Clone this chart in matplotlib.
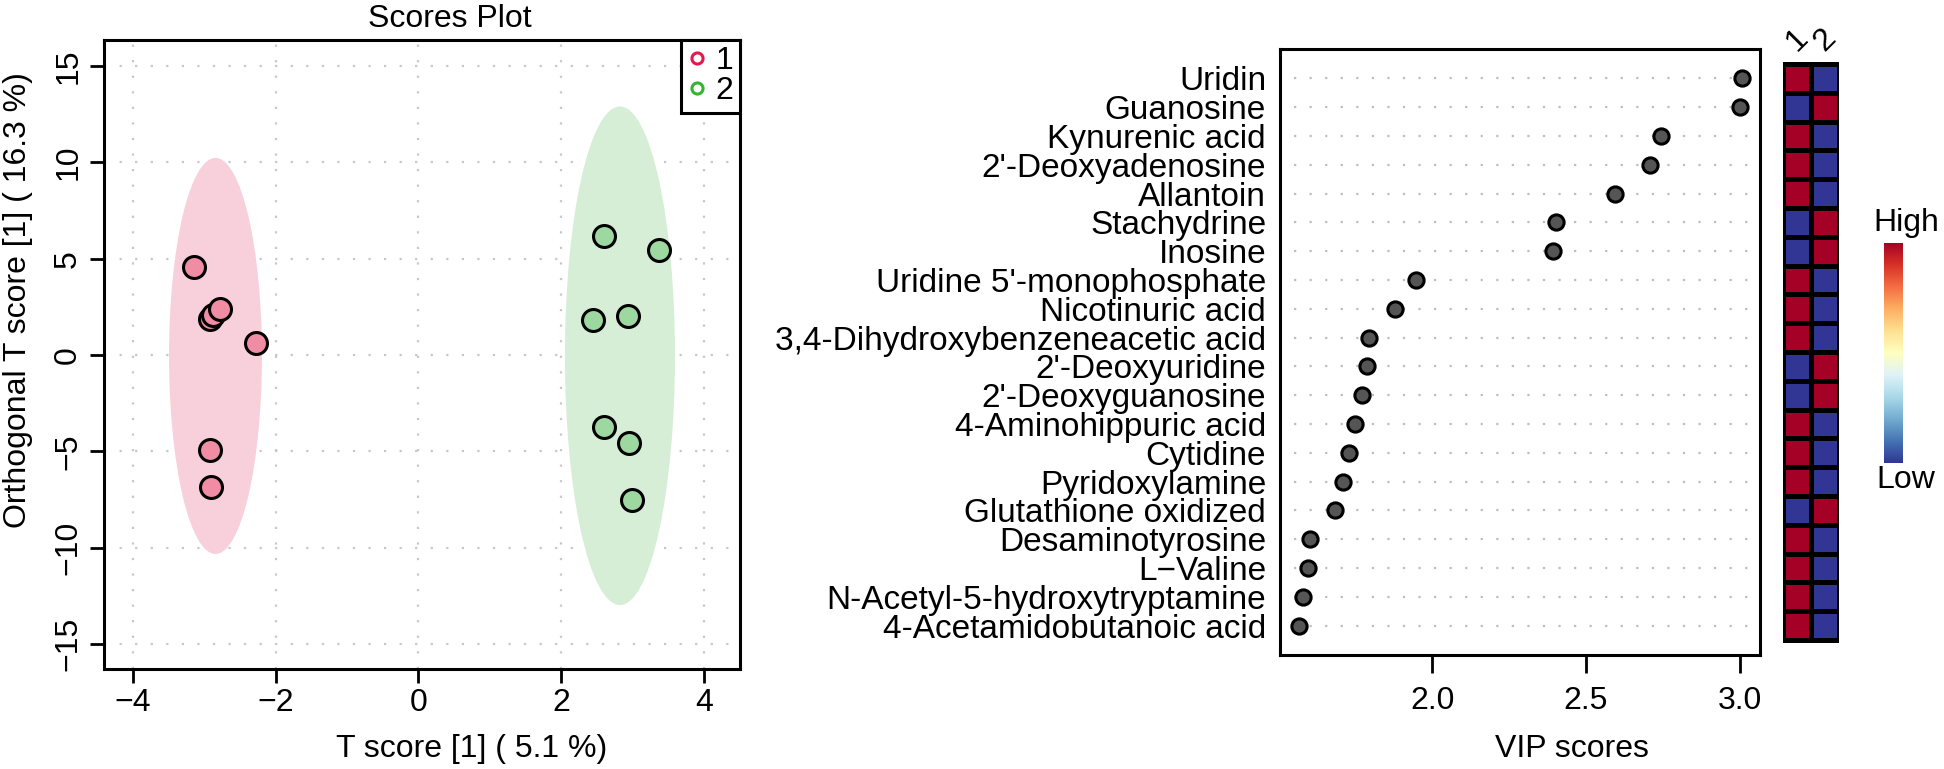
import numpy as np
import matplotlib
matplotlib.use('Agg')
import matplotlib.pyplot as plt
from matplotlib.patches import Ellipse
from matplotlib.lines import Line2D

plt.rcParams['font.family'] = ['Liberation Sans', 'DejaVu Sans']

# scores plot (T score, orthogonal T score) per group
g1_t = [-3.14, -2.92, -2.87, -2.78, -2.27, -2.92, -2.90]
g1_o = [4.55, 1.88, 2.09, 2.39, 0.64, -4.91, -6.87]
g2_t = [2.60, 3.37, 2.44, 2.93, 2.60, 2.94, 2.99]
g2_o = [6.18, 5.47, 1.83, 2.04, -3.72, -4.58, -7.53]
# confidence regions: centre t, centre o, half width, half height
ell1 = (-2.84, -0.05, 0.65, 10.28)
ell2 = (2.82, -0.04, 0.77, 12.94)

# VIP plot, top to bottom
compounds = ['Uridin', 'Guanosine', 'Kynurenic acid', "2'-Deoxyadenosine", 'Allantoin',
             'Stachydrine', 'Inosine', "Uridine 5'-monophosphate", 'Nicotinuric acid',
             '3,4-Dihydroxybenzeneacetic acid', "2'-Deoxyuridine", "2'-Deoxyguanosine",
             '4-Aminohippuric acid', 'Cytidine', 'Pyridoxylamine', 'Glutathione oxidized',
             'Desaminotyrosine', 'L\u2212Valine', 'N-Acetyl-5-hydroxytryptamine',
             '4-Acetamidobutanoic acid']
vip = [3.005, 3.001, 2.742, 2.708, 2.595, 2.401, 2.392, 1.948, 1.878, 1.796,
       1.787, 1.771, 1.751, 1.730, 1.711, 1.686, 1.602, 1.598, 1.581, 1.567]
# which group is high for each compound
high_group = [1, 2, 1, 1, 1, 2, 2, 1, 1, 1, 2, 2, 1, 1, 1, 2, 1, 1, 1, 1]
groups = ['1', '2']

W, H = 1944, 769
fig = plt.figure(figsize=(W / 100, H / 100), dpi=100)

def box(x0, y0, x1, y1):
    return [x0 / W, 1 - y1 / H, (x1 - x0) / W, (y1 - y0) / H]

fs = 23
fs_lab = 24

# ---- scores plot
ax = fig.add_axes(box(104, 40, 740, 669))
ax.set_xlim(-4.40, 4.50)
ax.set_ylim(-16.3, 16.35)
ax.set_xticks([-4, -2, 0, 2, 4])
ax.set_yticks([-15, -10, -5, 0, 5, 10, 15])
ax.grid(True, color='#C8C8C8', linestyle=(0, (1, 6)), linewidth=1.6)
ax.set_axisbelow(True)
for cx, cy, hw, hh, col in [(*ell1, '#F7D0DB'), (*ell2, '#D6EED6')]:
    ax.add_patch(Ellipse((cx, cy), 2 * hw, 2 * hh, facecolor=col, edgecolor='none', zorder=1))
ax.scatter(g1_t, g1_o, s=250, c='#F08DA4', edgecolors='black', linewidths=2.2, zorder=3)
ax.scatter(g2_t, g2_o, s=250, c='#9DD8A0', edgecolors='black', linewidths=2.2, zorder=3)
ax.tick_params(labelsize=fs, length=10, width=2, pad=4)
ax.tick_params(axis='y', pad=5)
for lab in ax.get_yticklabels():
    lab.set_rotation(90)
    lab.set_va('center')
for s in ax.spines.values():
    s.set_linewidth(2.2)
handles = [Line2D([], [], marker='o', ls='none', mfc='none', mec='#E31A4B', mew=2.2, ms=8),
           Line2D([], [], marker='o', ls='none', mfc='none', mec='#33B533', mew=2.2, ms=8)]
leg = ax.legend(handles, groups, loc='upper right', borderaxespad=0, fontsize=fs,
                handlelength=0.6, handletextpad=0.3, labelspacing=0.0, borderpad=0.2,
                fancybox=False, framealpha=1)
leg.get_frame().set_edgecolor('black')
leg.get_frame().set_linewidth(2.2)
fig.text(450 / W, 1 - 27 / H, 'Scores Plot', ha='center', va='baseline', fontsize=fs)
fig.text(472 / W, 1 - 757 / H, 'T score [1] ( 5.1 %)', ha='center', va='baseline', fontsize=fs)
fig.text(18 / W, 1 - 300 / H, 'Orthogonal T score [1] ( 16.3 %)', ha='center', va='center',
         rotation=90, fontsize=fs)

# ---- VIP dot plot
ypos = np.arange(len(compounds), 0, -1)
ax2 = fig.add_axes(box(1280, 49, 1760, 655))
ax2.set_xlim(1.506, 3.065)
ax2.set_ylim(-0.02, 21.02)
for y in ypos:
    ax2.plot([1.55, 3.04], [y, y], color='#BEBEBE', linestyle=(0, (1, 6)), linewidth=1.6, zorder=1)
ax2.scatter(vip, ypos, s=120, c='#555555', edgecolors='black', linewidths=2.2, zorder=3)
ax2.set_yticks(ypos)
ax2.set_yticklabels(compounds)
ax2.set_xticks([2.0, 2.5, 3.0])
ax2.set_xticklabels(['2.0', '2.5', '3.0'])
ax2.tick_params(axis='y', length=0, pad=10, labelsize=fs_lab)
ax2.tick_params(axis='x', length=13, width=2, pad=9, labelsize=fs)
for s in ax2.spines.values():
    s.set_linewidth(2.2)
fig.text(1572 / W, 1 - 757 / H, 'VIP scores', ha='center', va='baseline', fontsize=fs)

# ---- group heatmap
Z = np.array([[1 if h == 1 else -1, 1 if h == 2 else -1] for h in high_group])[::-1]
axh = fig.add_axes(box(1782.7, 49, 1839.3, 655))
axh.pcolormesh(np.arange(3), np.arange(0.5, len(compounds) + 1.5), Z, cmap='RdYlBu_r',
               vmin=-1, vmax=1, edgecolors='black', linewidth=2.5)
axh.set_xlim(0, 2)
axh.set_ylim(-0.02, 21.02)
axh.axis('off')
for i, g in enumerate(groups):
    axh.text(i + 0.5, 20.75, g, rotation=45, ha='center', va='bottom', fontsize=fs, clip_on=False)

# ---- colour key
axc = fig.add_axes(box(1883.7, 242.7, 1902, 463.3))
axc.imshow(np.linspace(0, 1, 256)[:, None], aspect='auto', cmap='RdYlBu_r', origin='lower')
axc.axis('off')
fig.text(1906 / W, 1 - 231 / H, 'High', ha='center', va='baseline', fontsize=fs)
fig.text(1906 / W, 1 - 465 / H, 'Low', ha='center', va='top', fontsize=fs)

fig.savefig('out.png', dpi=100)
